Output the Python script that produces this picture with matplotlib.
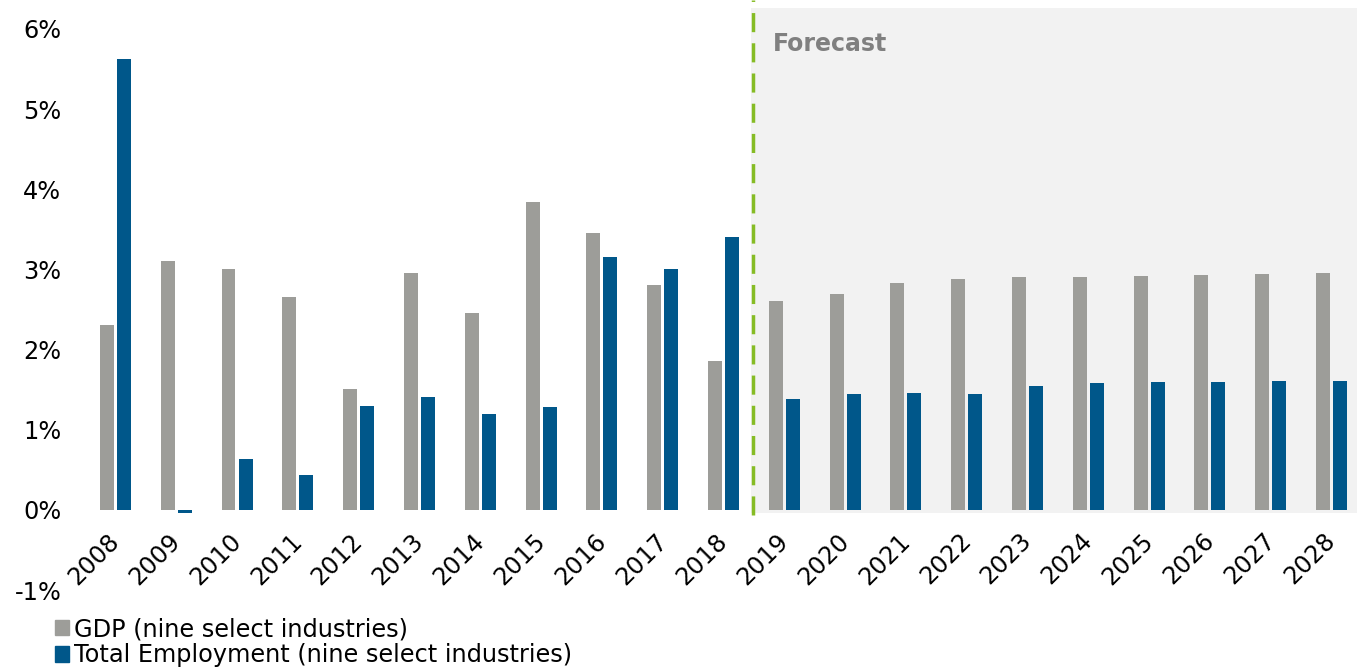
import matplotlib
matplotlib.use("Agg")
import matplotlib.pyplot as plt
from matplotlib.patches import Patch
from matplotlib.transforms import ScaledTranslation
import numpy as np

years = [str(y) for y in range(2008, 2029)]
gdp = [2.31, 3.10, 3.01, 2.66, 1.51, 2.95, 2.46, 3.84, 3.45, 2.80, 1.86,
       2.60, 2.69, 2.83, 2.88, 2.90, 2.91, 2.92, 2.93, 2.94, 2.95]
employment = [5.62, -0.04, 0.64, 0.44, 1.29, 1.41, 1.20, 1.28, 3.15, 3.01, 3.40,
              1.38, 1.45, 1.46, 1.44, 1.54, 1.58, 1.59, 1.60, 1.61, 1.61]
yticks = [-1, 0, 1, 2, 3, 4, 5, 6]
forecast_start = 10.5

gray = "#9d9d99"
blue = "#00578a"
fs = 17.3

fig = plt.figure(figsize=(13.57, 6.68), dpi=100)
ax = fig.add_axes([85 / 1357, 78 / 668, 1272 / 1357, 590 / 668])
for s in ax.spines.values():
    s.set_color("none")

x = np.arange(len(years))
w = 0.23
ax.bar(x - 0.14, gdp, width=w, color=gray, zorder=3)
ax.bar(x + 0.14, employment, width=w, color=blue, zorder=3)

# forecast shading + divider
ax.axvspan(forecast_start - 0.05, 20.42, ymin=(1 - 0.04) / 7.36, ymax=(1 + 6.26) / 7.36,
           color="#f2f2f2", zorder=1, lw=0)
ax.plot([forecast_start - 0.01] * 2, [-0.06, 6.36], color="#86bc25", lw=2.5,
        ls=(0, (5.5, 3.2)), zorder=4)
ax.text(10.81, 5.72, "Forecast", fontsize=17, fontweight="bold", color="#808080",
        va="baseline", ha="left", zorder=5)

ax.set_xlim(-0.5, 20.42)
ax.set_ylim(-1, 6.36)
ax.set_yticks(yticks)
ax.set_yticklabels([f"{t}%" for t in yticks], fontsize=fs)
ax.set_xticks([])
ax.tick_params(axis="y", length=0, pad=17)

# year labels hang under the 0% line
lab_tr = ax.transData + ScaledTranslation(-0.08, -0.19, fig.dpi_scale_trans)
for xi, yr in zip(x, years):
    ax.text(xi, 0, yr, fontsize=fs, rotation=45, ha="right", va="top",
            rotation_mode="anchor", transform=lab_tr)

handles = [Patch(color=gray), Patch(color=blue)]
labels = ["GDP (nine select industries)", "Total Employment (nine select industries)"]
fig.legend(handles, labels, loc="upper left", bbox_to_anchor=(55 / 1357, 1 - 617 / 668),
           frameon=False, fontsize=fs, handlelength=0.6, handleheight=0.6,
           handletextpad=0.2, labelspacing=0.1, borderaxespad=0, borderpad=0)

fig.savefig("out.png", dpi=100)
